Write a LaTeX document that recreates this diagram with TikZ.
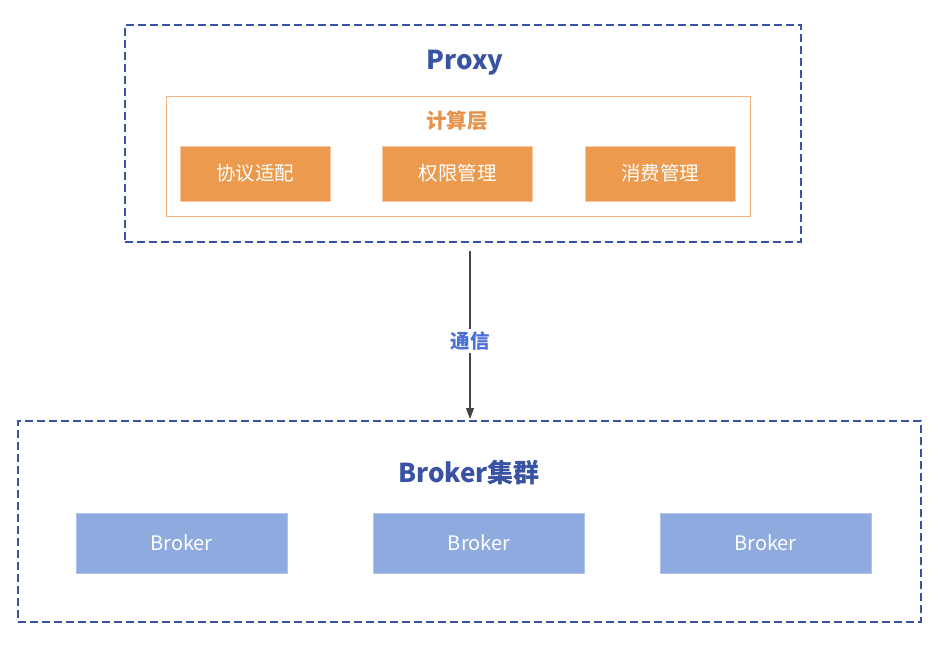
\documentclass[tikz,border=0pt]{standalone}
\usepackage{fontspec}
\setmainfont{Noto Sans CJK SC}
\usetikzlibrary{arrows.meta}
\definecolor{dblue}{HTML}{3953A4}
\definecolor{lblue}{HTML}{4A6FD8}
\definecolor{oline}{HTML}{F5B27A}
\definecolor{otext}{HTML}{E8914A}
\definecolor{ofill}{HTML}{EB9A4E}
\definecolor{bfill}{HTML}{8EAADF}
\definecolor{agray}{HTML}{444444}
\tikzset{
  grp/.style={draw=dblue, line width=1.9pt, dash pattern=on 8pt off 4pt, inner sep=0pt, anchor=north west},
  layerbox/.style={draw=oline, line width=1.3pt, inner sep=0pt, anchor=north west},
  obox/.style={fill=ofill, draw=oline!70!white, line width=0.8pt, minimum width=150pt, minimum height=55pt, inner sep=0pt, text=white, font=\fontsize{19.5}{22}\selectfont},
  bbox/.style={fill=bfill, draw=bfill!70!white, line width=0.8pt, minimum width=211pt, minimum height=60pt, inner sep=0pt, text=white, font=\fontsize{20}{22}\selectfont},
  ttl/.style={text=dblue, font=\fontsize{26}{30}\selectfont\bfseries},
}
\begin{document}
\begin{tikzpicture}[x=1pt,y=-1pt]
\useasboundingbox (0,0) rectangle (942,648);
\node[grp, minimum width=676pt, minimum height=217pt] (proxy) at (124,24) {};
\node[ttl] (proxyt) at (465,62.5) {Proxy};
\node[layerbox, minimum width=584pt, minimum height=120pt] (layer) at (166,96) {};
\node[text=otext, font=\fontsize{20.5}{24}\selectfont\bfseries] (layert) at (457,121) {计算层};
\node[obox] (p1) at (255,173.5) {协议适配};
\node[obox] (p2) at (457.5,173.5) {权限管理};
\node[obox] (p3) at (660,173.5) {消费管理};
\node[grp, minimum width=903pt, minimum height=201pt] (cluster) at (17,420) {};
\node[ttl] (clustert) at (469,472.5) {Broker集群};
\node[bbox] (b1) at (181.5,543) {Broker};
\node[bbox] (b2) at (479,543) {Broker};
\node[bbox] (b3) at (765.5,543) {Broker};
\coordinate (src) at (470,251);
\coordinate (dst) at (470,419);
\draw[agray, line width=1.1pt, -{Triangle[length=11pt,width=8pt]}] (src) -- (dst);
\node[fill=white, text=lblue, font=\fontsize{19.5}{22}\selectfont\bfseries, inner sep=3pt] (lbl) at (470,341) {通信};
\end{tikzpicture}
\end{document}
